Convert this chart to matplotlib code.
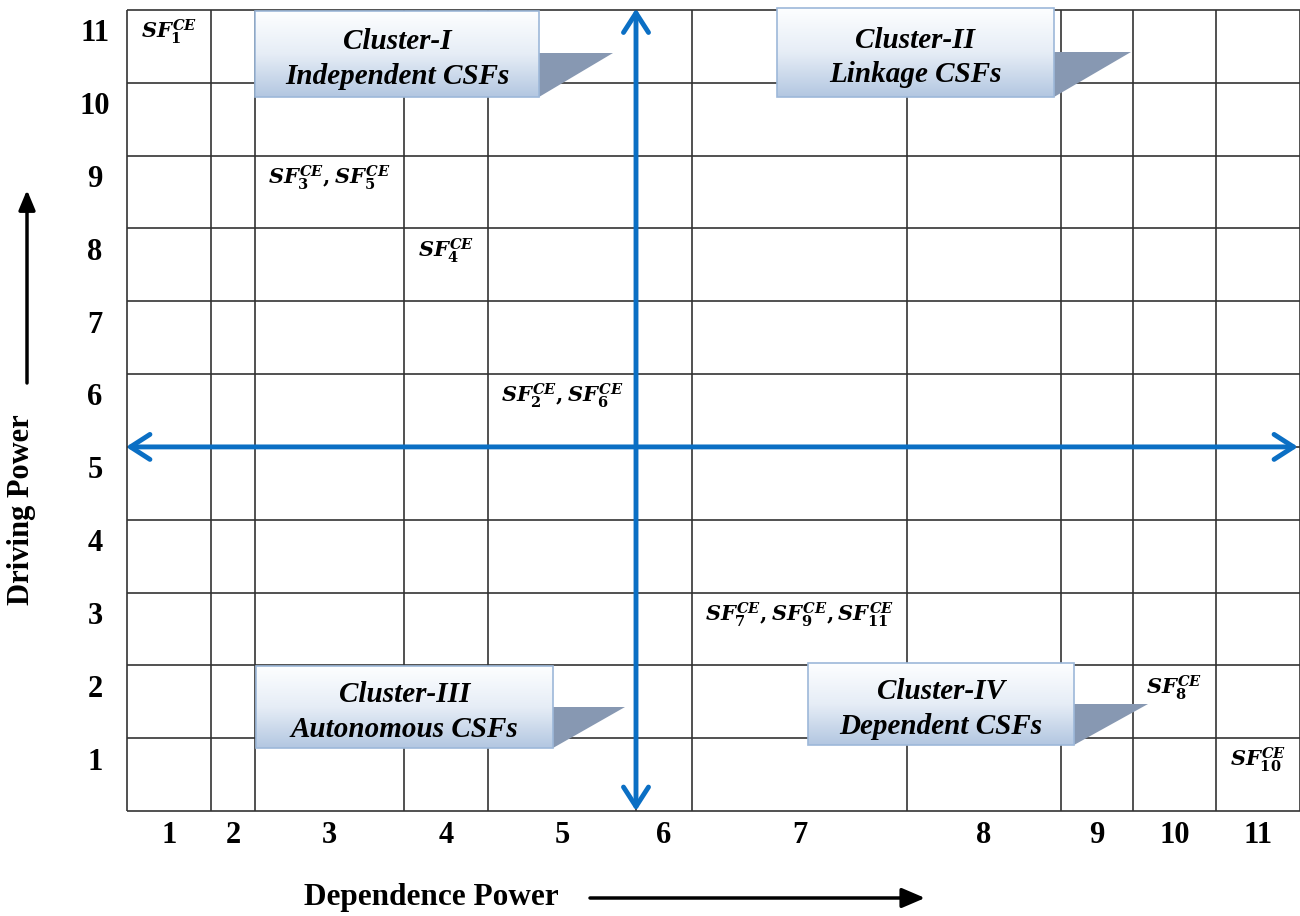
import numpy as np
import matplotlib
matplotlib.use('Agg')
import matplotlib.pyplot as plt
from matplotlib.colors import LinearSegmentedColormap
from matplotlib.patches import Polygon, Rectangle

plt.rcParams['mathtext.fontset'] = 'custom'
plt.rcParams['mathtext.it'] = 'DejaVu Serif:italic:bold'
plt.rcParams['mathtext.rm'] = 'DejaVu Serif:bold'
plt.rcParams['mathtext.bf'] = 'DejaVu Serif:bold'

# data: factors placed on the (dependence, driving) grid
factor_groups = [[1], [3, 5], [4], [2, 6], [7, 9, 11], [8], [10]]
dependence = [1, 3, 4, 5, 7, 10, 11]
driving = [11, 9, 8, 6, 3, 2, 1]
tick_labels = [str(i) for i in range(1, 12)]
cluster_titles = ['Cluster-I', 'Cluster-II', 'Cluster-III', 'Cluster-IV']
cluster_names = ['Independent CSFs', 'Linkage CSFs', 'Autonomous CSFs', 'Dependent CSFs']

# layout (pixels)
W, H = 1300, 916
col_edges = np.array([0, 84, 128, 277, 361, 509, 565, 780, 934, 1006, 1089, 1173])
col_centers = (col_edges[:-1] + col_edges[1:]) / 2
# box x0, y_top, x1, y_bottom, shadow tip x, shadow tip y
boxes = [(255, 11, 539, 97, 613, 53),
         (777, 8, 1054, 97, 1131, 52),
         (256, 666, 553, 748, 625, 707),
         (808, 663, 1074, 745, 1148, 704)]

serif = 'Liberation Serif'
blue = '#0b6fc4'

fig = plt.figure(figsize=(W / 100, H / 100), dpi=100)
ax = fig.add_axes([127 / W, (H - 811) / H, 1173 / W, 801 / H])
ax.set_xlim(0, col_edges[-1])
ax.set_ylim(0, 11)
for s in ax.spines.values():
    s.set_visible(False)

ax.vlines(col_edges, 0, 11, color='#333333', lw=1.2, clip_on=False)
ax.hlines(np.arange(12), 0, col_edges[-1], color='#333333', lw=1.2, clip_on=False)

ax.set_xticks(col_centers)
ax.set_xticklabels(tick_labels, fontfamily=serif, fontweight='bold', fontsize=22)
ax.set_yticks(np.arange(1, 12) - 0.28)
ax.set_yticklabels(tick_labels, fontfamily=serif, fontweight='bold', fontsize=22)
for t in ax.get_yticklabels():
    t.set_horizontalalignment('center')
ax.tick_params(axis='x', length=0, pad=7)
ax.tick_params(axis='y', length=0, pad=23)

for grp, dx, dy in zip(factor_groups, dependence, driving):
    lab = ','.join(r'SF_{%d}^{CE}' % g for g in grp)
    ax.text(col_centers[dx - 1], dy - 0.3, '$' + lab + '$', ha='center', va='center',
            fontsize=15)

arrow_style = '<->,head_length=0.7,head_width=0.45'
ax.annotate('', xy=(col_edges[-1] - 2, 5), xytext=(-1, 5), annotation_clip=False,
            arrowprops=dict(arrowstyle=arrow_style, lw=3.5, color=blue,
                            shrinkA=0, shrinkB=0, mutation_scale=20))
ax.annotate('', xy=(col_edges[5], 11.02), xytext=(col_edges[5], 0), annotation_clip=False,
            arrowprops=dict(arrowstyle=arrow_style, lw=3.5, color=blue,
                            shrinkA=0, shrinkB=0, mutation_scale=20))

# overlay in pixel coordinates for the cluster boxes and axis titles
ov = fig.add_axes([0, 0, 1, 1])
ov.set_xlim(0, W)
ov.set_ylim(H, 0)
ov.axis('off')
ov.patch.set_visible(False)

cmap = LinearSegmentedColormap.from_list('box', ['#fdfeff', '#e6edf6', '#b3c7e1'])
grad = np.linspace(0, 1, 100).reshape(-1, 1)
for (x0, y0, x1, y1, tx, ty), title, name in zip(boxes, cluster_titles, cluster_names):
    ov.add_patch(Polygon([(x1, ty), (tx, ty), (x1, y1)], closed=True,
                         facecolor='#8798b2', edgecolor='none', zorder=2))
    ov.imshow(grad, cmap=cmap, extent=(x0, x1, y1, y0), aspect='auto', origin='upper', zorder=3)
    ov.add_patch(Rectangle((x0, y0), x1 - x0, y1 - y0, facecolor='none',
                           edgecolor='#9db8d9', lw=1.2, zorder=4))
    ov.text((x0 + x1) / 2, (y0 + y1) / 2 + 5, title + '\n' + name, ha='center', va='center',
            fontfamily=serif, fontweight='bold', fontstyle='italic', fontsize=21,
            linespacing=1.35, zorder=5)
ov.set_xlim(0, W)
ov.set_ylim(H, 0)

ov.text(431, 897, 'Dependence Power', ha='center', va='center', fontfamily=serif,
        fontweight='bold', fontsize=22.5)
ov.annotate('', xy=(925, 898), xytext=(590, 898),
            arrowprops=dict(arrowstyle='-|>,head_length=0.7,head_width=0.3', lw=2.5,
                            color='black', shrinkA=0, shrinkB=0, mutation_scale=20))
ov.text(22, 510, 'Driving Power', ha='center', va='center', rotation=90, fontfamily=serif,
        fontweight='bold', fontsize=22)
ov.annotate('', xy=(27, 190), xytext=(27, 383),
            arrowprops=dict(arrowstyle='-|>,head_length=0.6,head_width=0.25', lw=2.5,
                            color='black', shrinkA=0, shrinkB=0, mutation_scale=20))

fig.savefig('out.png', dpi=100)
